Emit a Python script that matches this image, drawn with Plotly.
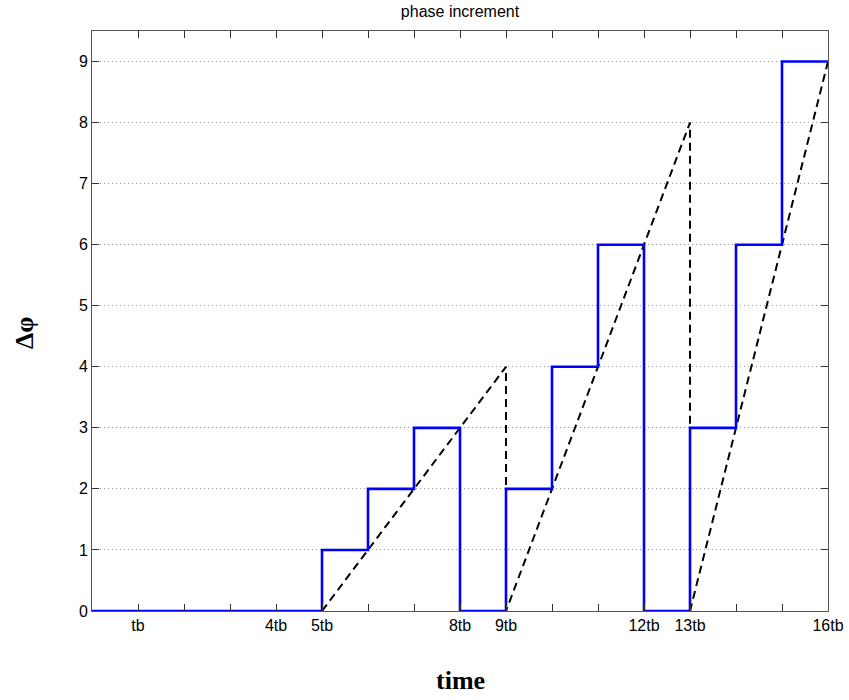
import plotly.graph_objects as go

# Phase increment of the stepped accumulator (blue) and the ideal ramp (dashed)
step_t = [0, 5, 5, 6, 6, 7, 7, 8, 8, 9, 9, 10, 10, 11, 11, 12, 12, 13, 13, 14, 14, 15, 15, 16]
step_phi = [0, 0, 1, 1, 2, 2, 3, 3, 0, 0, 2, 2, 4, 4, 6, 6, 0, 0, 3, 3, 6, 6, 9, 9]

ramp_t = [5, 9, 9, 13, 13, 16]
ramp_phi = [0, 4, 0, 8, 0, 9]

tick_vals = list(range(0, 17))
tick_labels = {1: "tb", 4: "4tb", 5: "5tb", 8: "8tb", 9: "9tb",
               12: "12tb", 13: "13tb", 16: "16tb"}
tick_text = [tick_labels.get(v, "") for v in tick_vals]
y_ticks = list(range(0, 10))

fig = go.Figure()
fig.add_trace(go.Scatter(
    x=ramp_t, y=ramp_phi, mode="lines",
    line=dict(color="black", width=2, dash="8px,5px"), showlegend=False))
fig.add_trace(go.Scatter(
    x=step_t, y=step_phi, mode="lines",
    line=dict(color="#0000FF", width=2.6), showlegend=False))

axis_font = dict(family="Liberation Sans, Arial", size=16, color="black")

fig.update_layout(
    width=849, height=700,
    margin=dict(l=92, r=21, t=31, b=89, autoexpand=False),
    paper_bgcolor="white", plot_bgcolor="white",
    title=dict(text="phase increment", x=0.5, xref="paper", xanchor="center",
               y=1, yref="container", yanchor="top", pad=dict(t=6),
               font=dict(family="Liberation Sans, Arial", size=16, color="black")),
    xaxis=dict(range=[0, 16], tickmode="array", tickvals=tick_vals, ticktext=tick_text,
               ticks="inside", ticklen=7, tickcolor="#333333", showgrid=False,
               showline=True, linecolor="#555555", linewidth=1, mirror="ticks",
               zeroline=False, tickfont=axis_font, automargin=False),
    yaxis=dict(range=[0, 9.5], tickmode="array", tickvals=y_ticks,
               ticks="inside", ticklen=7, tickcolor="#333333",
               showgrid=True, gridcolor="#999999", griddash="1px,3px", gridwidth=1,
               showline=True, linecolor="#555555", linewidth=1, mirror="ticks",
               zeroline=False, tickfont=axis_font, automargin=False),
    annotations=[
        dict(text="<b>time</b>", xref="paper", yref="paper", x=0.5, y=0,
             xanchor="center", yanchor="middle", yshift=-69, showarrow=False,
             font=dict(family="Liberation Serif, Times New Roman", size=26, color="black")),
        dict(text="<b>Δφ</b>", xref="paper", yref="paper", x=0, y=0.5,
             xanchor="center", yanchor="middle", xshift=-68, yshift=-12,
             textangle=-90, showarrow=False,
             font=dict(family="Liberation Serif, Times New Roman", size=26, color="black")),
    ],
)

fig.write_html("out.html")
